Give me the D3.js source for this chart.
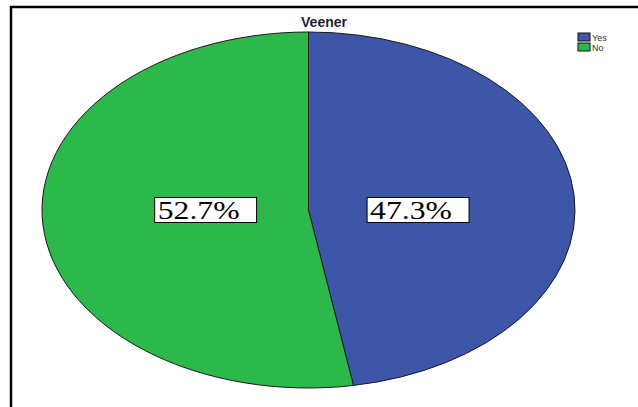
<!DOCTYPE html>
<html>
<head>
<meta charset="utf-8">
<script src="https://cdn.jsdelivr.net/npm/d3@7"></script>
<style>
  body { margin: 0; background: #fff; }
</style>
</head>
<body>
<svg></svg>
<script>
let categories = ['Yes', 'No']
let values = [47.3, 52.7]
let colors = ['#3d56a8', '#2db84b']
let title = 'Veener'

let svgWidth = 638
let svgHeight = 407

let svg = d3.select('svg')
    .attr('width', svgWidth)
    .attr('height', svgHeight)
    .style('display', 'block')

// frame (top and left edges visible)
svg.append('line')
    .attr('x1', 10).attr('x2', svgWidth)
    .attr('y1', 7).attr('y2', 7)
    .attr('stroke', '#000').attr('stroke-width', 2.5)
svg.append('line')
    .attr('x1', 11).attr('x2', 11)
    .attr('y1', 6).attr('y2', svgHeight)
    .attr('stroke', '#000').attr('stroke-width', 2.5)

svg.append('text')
    .attr('x', 324)
    .attr('y', 27)
    .attr('text-anchor', 'middle')
    .style('font-family', 'Arial, "Liberation Sans", sans-serif')
    .style('font-weight', 'bold')
    .style('font-size', '14px')
    .attr('fill', '#1f2233')
    .text(title)

// pie drawn as ellipse
let cx = 308.5, cy = 210
let rx = 266.5, ry = 178
let yScale = ry / rx

let data = categories.map((c, i) => ({ name: c, value: values[i], color: colors[i] }))

let pie = d3.pie().sort(null).value(d => d.value)
let arc = d3.arc().innerRadius(0).outerRadius(rx)
let labelArc = d3.arc().innerRadius(rx * 0.4).outerRadius(rx * 0.4)

let g = svg.append('g')
    .attr('transform', 'translate(' + cx + ',' + cy + ')')

g.append('g')
    .attr('transform', 'scale(1,' + yScale + ')')
    .selectAll('path')
    .data(pie(data))
    .enter()
    .append('path')
    .attr('d', arc)
    .attr('fill', d => d.data.color)
    .attr('stroke', '#1a1a1a')
    .attr('stroke-width', 1)
    .attr('vector-effect', 'non-scaling-stroke')

let labels = g.selectAll('.lbl')
    .data(pie(data))
    .enter()
    .append('g')
    .attr('class', 'lbl')
    .attr('transform', d => {
        let c = labelArc.centroid(d)
        return 'translate(' + c[0] + ',0)'
    })

labels.each(function (d) {
    let lg = d3.select(this)
    let t = lg.append('text')
        .attr('text-anchor', 'middle')
        .attr('dy', '0.35em')
        .attr('transform', 'scale(1.22,1)')
        .attr('x', -3)
        .style('font-family', '"Liberation Serif", "Times New Roman", serif')
        .style('font-size', '26px')
        .attr('fill', '#000')
        .text(d.data.value.toFixed(1) + '%')
    let bb = t.node().getBBox()
    lg.insert('rect', 'text')
        .attr('x', bb.x * 1.22 - 3)
        .attr('y', -12.5)
        .attr('width', bb.width * 1.22 + 20)
        .attr('height', 25)
        .attr('fill', '#fff')
        .attr('stroke', '#000')
        .attr('stroke-width', 1)
})

// legend
let legend = svg.append('g')
    .attr('transform', 'translate(578,33)')

let items = legend.selectAll('g')
    .data(data)
    .enter()
    .append('g')
    .attr('transform', (d, i) => 'translate(0,' + (i * 10) + ')')

items.append('rect')
    .attr('width', 12)
    .attr('height', 8)
    .attr('fill', d => d.color)
    .attr('stroke', '#111')
    .attr('stroke-width', 1)

items.append('text')
    .attr('x', 14)
    .attr('y', 8)
    .style('font-family', 'Arial, "Liberation Sans", sans-serif')
    .style('font-size', '9px')
    .attr('fill', '#333')
    .text(d => d.name)
</script>
</body>
</html>
